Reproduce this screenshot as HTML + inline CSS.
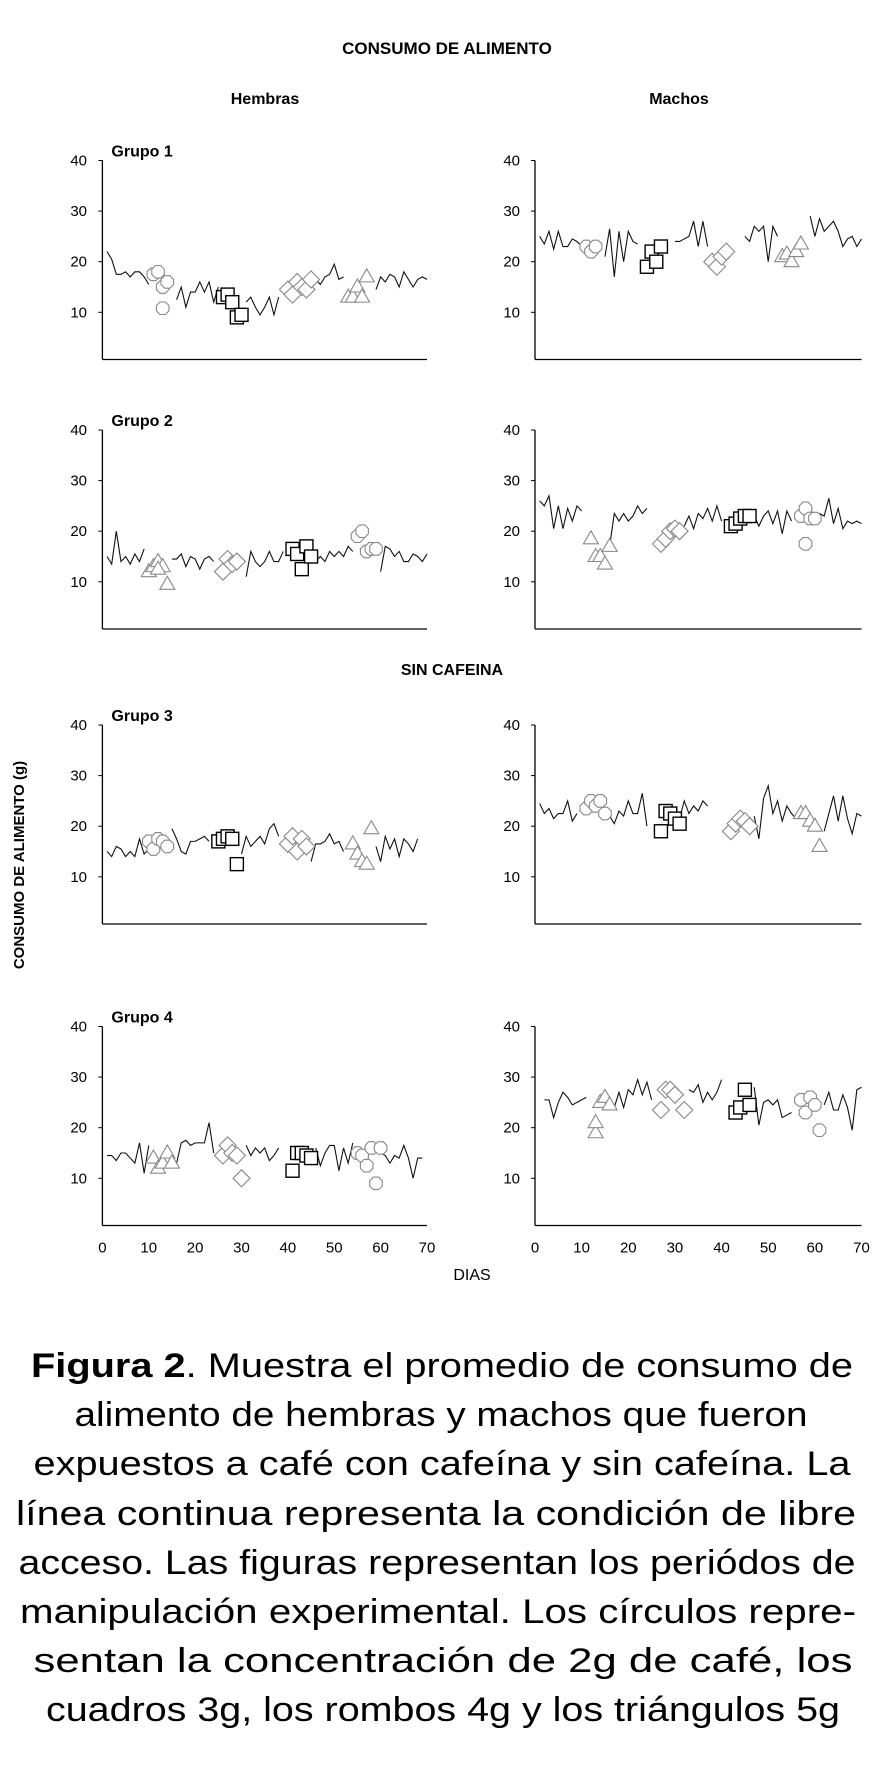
<!DOCTYPE html>
<html><head><meta charset="utf-8"><style>
html,body{margin:0;padding:0;background:#fff}
svg{display:block}
text{font-family:"Liberation Sans",sans-serif;fill:#000}
</style></head><body>
<svg id="fig" width="877" height="1782" viewBox="0 0 877 1782" xmlns="http://www.w3.org/2000/svg">
<text x="447" y="54" text-anchor="middle" font-size="17" font-weight="bold">CONSUMO DE ALIMENTO</text>
<text x="265" y="104" text-anchor="middle" font-size="16" font-weight="bold">Hembras</text>
<text x="679" y="104" text-anchor="middle" font-size="16" font-weight="bold">Machos</text>
<text x="452" y="675" text-anchor="middle" font-size="16" font-weight="bold">SIN CAFEINA</text>
<text transform="translate(24,865) rotate(-90)" text-anchor="middle" font-size="15" font-weight="bold">CONSUMO DE ALIMENTO (g)</text>
<text x="472" y="1280" text-anchor="middle" font-size="16">DIAS</text>
<g id="charts"></g>
<g font-size="34">
<text x="442" y="1377" text-anchor="middle" textLength="822" lengthAdjust="spacingAndGlyphs"><tspan font-weight="bold">Figura 2</tspan>. Muestra el promedio de consumo de</text>
<text x="441" y="1426" text-anchor="middle" textLength="733" lengthAdjust="spacingAndGlyphs">alimento de hembras y machos que fueron</text>
<text x="442" y="1475" text-anchor="middle" textLength="817" lengthAdjust="spacingAndGlyphs">expuestos a café con cafeína y sin cafeína. La</text>
<text x="436" y="1525" text-anchor="middle" textLength="840" lengthAdjust="spacingAndGlyphs">línea continua representa la condición de libre</text>
<text x="437" y="1574" text-anchor="middle" textLength="837" lengthAdjust="spacingAndGlyphs">acceso. Las figuras representan los periódos de</text>
<text x="438" y="1623" text-anchor="middle" textLength="836" lengthAdjust="spacingAndGlyphs">manipulación experimental. Los círculos repre-</text>
<text x="443" y="1672" text-anchor="middle" textLength="819" lengthAdjust="spacingAndGlyphs">sentan la concentración de 2g de café, los</text>
<text x="443" y="1721" text-anchor="middle" textLength="794" lengthAdjust="spacingAndGlyphs">cuadros 3g, los rombos 4g y los triángulos 5g</text>
</g>
</svg>
<script>
const N=null;
const h1Line=[22,20.5,17.5,17.5,18,17,18,18,17,15.5,N,N,N,N,N,12.5,15,11,14,14,16,14,16,12,15,N,N,N,N,N,12,13,11,9.5,11,13,9.5,13,N,N,N,N,N,N,N,16.5,15.5,17,17.5,19.5,16.5,17,N,N,N,N,N,N,14.5,17,16,17.5,17,15,18,16.5,15,16.5,17,16.5];
const m1Line=[25,23.5,26,22.5,26,23,23,24.5,24,23,N,N,N,N,21,26.5,17,26,20,26,24,23.5,N,N,N,N,N,N,N,24,24,24.5,25,28,23,28,23,N,N,N,N,N,N,N,25,24,27,26,27,20,27,25,N,N,N,N,N,N,29,25,28.5,26,27,28,26,23,24.5,25,23,24.5];
const h2Line=[15,13.5,20,14,15,13.5,15.5,14,16.5,N,N,N,N,N,14.5,14.5,15.5,13,15,14.5,12.5,14.5,15,14,N,N,N,N,N,N,11,16,14,13,14,16,14,14,16,N,N,N,N,N,N,14,15,14,16,15,16,15,17,16,N,N,N,N,N,12,17,16.5,15,16,14,14,15.5,15,14,15.5];
const m2Line=[26,25,27,20.5,25,20.5,24.5,22,25,24,N,N,N,N,N,17,23.5,22,23.5,22,23,25,23.5,24.5,N,N,N,N,N,N,N,21,23,20.5,23.5,22.5,24.5,22,25,22,N,N,N,N,N,N,23,21,23,24,21.5,24,19.5,24,22,N,N,N,N,N,23.5,23,26.5,21.5,24.5,20.5,22,21.5,22,21.5];
const h3Line=[15,14,16,15.5,14,15,14,17.5,14.5,15.5,N,N,N,N,19.5,17.5,15,14.5,17,17,17.5,18,17,N,N,N,N,N,N,14.5,18,16,17,18,16.5,19.5,20.5,18,N,N,N,N,N,N,13,16.5,16.5,17,18.5,16.5,17,15,N,N,N,N,N,N,16,13,18,15.5,17.5,14,17.5,16.5,15,17.5];
const m3Line=[24.5,22.5,23.5,21.5,22.5,22.5,25,21,22.5,N,N,N,N,N,N,22,20.5,23,22,25,22.5,22.5,26.5,20,N,N,N,N,N,N,21.5,25,22.5,24,23,25,24,N,N,N,N,N,N,N,N,N,22,17.5,25.5,28,22.5,25,21,24,22.5,21.5,N,N,N,N,N,19,22.5,26,21,26,21.5,18.5,22.5,22];
const h4Line=[14.5,14.5,13.5,15,15,14,13,17,11,16.5,N,N,N,N,N,13,17,17.5,16.5,17,17,17,21,15,N,N,N,N,N,N,16.5,14.5,16,15,16,13.5,14.5,16,N,N,N,N,N,N,N,16,12.5,15,16.5,16.5,11.5,16,13,17,N,N,N,N,N,15,14.5,13,14.5,14,16.5,14,10,14,14,N];
const m4Line=[N,25.5,25.5,22,25,27,26,24.5,25,25.5,26,N,N,N,N,N,24,27,24,27.5,26.5,29.5,26.5,29,25.5,N,N,N,N,N,N,N,27.5,27,28.5,25,27,25.5,27,29.5,N,N,N,N,N,N,28,20.5,25,25.5,24.5,25.5,22,22.5,23,N,N,N,N,N,N,24.5,27,23.5,23.5,26.5,24,19.5,27.5,28];
const h1CircDays=[11,12,13,14,13], h1CircVals=[17.5,18,15,16,10.8];
const h1SqDays=[26,27,28,29,30], h1SqVals=[13,13.5,12,9,9.5];
const h1DiaDays=[40,41,42,43,44,45], h1DiaVals=[14.5,13.5,16,15,14.5,16.5];
const h1TriDays=[53,54,55,56,57], h1TriVals=[13,13,15,13,17];
const m1CircDays=[11,12,13], m1CircVals=[23,22,23];
const m1SqDays=[24,25,26,27], m1SqVals=[19,22,20,23];
const m1DiaDays=[38,39,40,41], m1DiaVals=[20,19,21,22];
const m1TriDays=[53,54,55,56,57], m1TriVals=[21,21.5,20,22,23.5];
const h2TriDays=[10,11,12,13,14,12], h2TriVals=[12,13,14,13,9.5,12.5];
const h2DiaDays=[26,27,28,29], h2DiaVals=[12,14.5,13.5,14];
const h2SqDays=[41,42,43,44,45], h2SqVals=[16.5,15.5,12.5,17,15];
const h2CircDays=[55,56,57,58,59], h2CircVals=[19,20,16,16.5,16.5];
const m2TriDays=[12,13,14,15,16], m2TriVals=[18.5,15,15,13.5,17];
const m2DiaDays=[27,28,29,30,31], m2DiaVals=[17.5,18.5,20,20.5,20];
const m2SqDays=[42,43,44,45,46], m2SqVals=[21,21.5,22.5,23,23];
const m2CircDays=[57,58,59,60,58], m2CircVals=[23,24.5,22.5,22.5,17.5];
const h3CircDays=[10,11,12,13,14], h3CircVals=[17,15.5,17.5,17,16];
const h3SqDays=[25,26,27,28,29], h3SqVals=[17,17.5,18,17.5,12.5];
const h3DiaDays=[40,41,42,43,44], h3DiaVals=[16.5,18,15,17.5,16];
const h3TriDays=[54,55,56,57,58], h3TriVals=[16.5,14.5,13,12.5,19.5];
const m3CircDays=[11,12,13,14,15], m3CircVals=[23.5,25,24,25,22.5];
const m3SqDays=[27,28,29,30,31], m3SqVals=[19,23,22.5,21.5,20.5];
const m3DiaDays=[42,43,44,45,46], m3DiaVals=[19,20.5,21.5,21,20];
const m3TriDays=[57,58,59,60,61], m3TriVals=[22.5,22.5,21,20,16];
const h4TriDays=[11,12,13,14,15], h4TriVals=[14,12,13,15,13];
const h4DiaDays=[26,27,28,29,30], h4DiaVals=[14.5,16.5,15,14.5,10];
const h4SqDays=[41,42,43,44,45], h4SqVals=[11.5,15,15,14.5,14];
const h4CircDays=[55,56,57,58,59,60], h4CircVals=[15,14.5,12.5,16,9,16];
const m4TriDays=[13,13,14,15,16], m4TriVals=[19,21,25,26,24.5];
const m4DiaDays=[27,28,29,30,32], m4DiaVals=[23.5,27.5,27.5,26.5,23.5];
const m4SqDays=[43,44,45,46], m4SqVals=[23,24,27.5,24.5];
const m4CircDays=[57,58,59,60,61], m4CircVals=[25.5,23,26,24.5,19.5];
const yTicks=[10,20,30,40];
const xTicks=[0,10,20,30,40,50,60,70];

const NS='http://www.w3.org/2000/svg';
const root=document.getElementById('charts');
function mk(tag,attrs,parent){const e=document.createElementNS(NS,tag);for(const k in attrs)e.setAttribute(k,attrs[k]);parent.appendChild(e);return e;}
const rowsTop=[160.5,430,725,1026.5];
const cols=[{x0:102.4,x1:427,lab:87},{x0:535,x1:861.5,lab:520}];
const panels=[
 {r:0,c:0,name:'hembras-grupo-1',g:'Grupo 1',line:h1Line,m:[[h1CircDays,h1CircVals,'c'],[h1SqDays,h1SqVals,'s'],[h1DiaDays,h1DiaVals,'d'],[h1TriDays,h1TriVals,'t']]},
 {r:0,c:1,name:'machos-grupo-1',line:m1Line,m:[[m1CircDays,m1CircVals,'c'],[m1SqDays,m1SqVals,'s'],[m1DiaDays,m1DiaVals,'d'],[m1TriDays,m1TriVals,'t']]},
 {r:1,c:0,name:'hembras-grupo-2',g:'Grupo 2',line:h2Line,m:[[h2TriDays,h2TriVals,'t'],[h2DiaDays,h2DiaVals,'d'],[h2SqDays,h2SqVals,'s'],[h2CircDays,h2CircVals,'c']]},
 {r:1,c:1,name:'machos-grupo-2',line:m2Line,m:[[m2TriDays,m2TriVals,'t'],[m2DiaDays,m2DiaVals,'d'],[m2SqDays,m2SqVals,'s'],[m2CircDays,m2CircVals,'c']]},
 {r:2,c:0,name:'hembras-grupo-3',g:'Grupo 3',line:h3Line,m:[[h3CircDays,h3CircVals,'c'],[h3SqDays,h3SqVals,'s'],[h3DiaDays,h3DiaVals,'d'],[h3TriDays,h3TriVals,'t']]},
 {r:2,c:1,name:'machos-grupo-3',line:m3Line,m:[[m3CircDays,m3CircVals,'c'],[m3SqDays,m3SqVals,'s'],[m3DiaDays,m3DiaVals,'d'],[m3TriDays,m3TriVals,'t']]},
 {r:3,c:0,name:'hembras-grupo-4',g:'Grupo 4',line:h4Line,xl:true,m:[[h4TriDays,h4TriVals,'t'],[h4DiaDays,h4DiaVals,'d'],[h4SqDays,h4SqVals,'s'],[h4CircDays,h4CircVals,'c']]},
 {r:3,c:1,name:'machos-grupo-4',line:m4Line,xl:true,m:[[m4TriDays,m4TriVals,'t'],[m4DiaDays,m4DiaVals,'d'],[m4SqDays,m4SqVals,'s'],[m4CircDays,m4CircVals,'c']]}
];
const mnames={c:'circle-marker',s:'square-marker',d:'diamond-marker',t:'triangle-marker'};
panels.forEach(p=>{
 const top=rowsTop[p.r], col=cols[p.c];
 const ys=v=>top+(40-v)*5.06;
 const xs=d=>col.x0+d*(col.x1-col.x0)/70;
 const base=top+199;
 const g=mk('g',{},root);
 
 
 const ya=mk('line',{x1:col.x0,y1:top,x2:col.x0,y2:base,stroke:'#000','stroke-width':1.3},g);
 
 
 const xa=mk('line',{x1:col.x0,y1:base,x2:col.x1,y2:base,stroke:'#000','stroke-width':1.3},g);
 
 
 yTicks.forEach(t=>{
  const tk=mk('line',{x1:col.x0-4,y1:ys(t),x2:col.x0,y2:ys(t),stroke:'#000','stroke-width':1},g);
  
  
  const tl=mk('text',{x:col.lab,y:ys(t)+5,'text-anchor':'end','font-size':15},g);
  
  
  tl.textContent=t;
 });
 if(p.xl){xTicks.forEach(t=>{
  const tl=mk('text',{x:xs(t),y:base+27,'text-anchor':'middle','font-size':15},g);
  
  
  tl.textContent=t;
 });}
 if(p.g){const gt=mk('text',{x:col.x0+9,y:top-4,'font-size':16,'font-weight':'bold'},g);
  
  
  gt.textContent=p.g;}
 let seg=[];const segs=[];
 p.line.forEach((v,i)=>{if(v===null){if(seg.length)segs.push(seg);seg=[];}else seg.push([xs(i+1),ys(v)]);});
 if(seg.length)segs.push(seg);
 segs.forEach(s=>{
  const pl=mk('polyline',{points:s.map(q=>q.join(',')).join(' '),fill:'none',stroke:'#111','stroke-width':1.1},g);
  
  
 });
 p.m.forEach(([days,vals,type])=>{
  days.forEach((d,i)=>{
   const x=xs(d),y=ys(vals[i]);let e;
   if(type==='s'){e=mk('rect',{x:x-6.5,y:y-6.5,width:13,height:13,fill:'#fff',stroke:'#000','stroke-width':1.4},g);}
   else if(type==='d'){e=mk('polygon',{points:`${x},${y-8.5} ${x+8.5},${y} ${x},${y+8.5} ${x-8.5},${y}`,fill:'#fff',stroke:'#888','stroke-width':1.1},g);}
   else if(type==='t'){e=mk('polygon',{points:`${x},${y-8} ${x+7.5},${y+5} ${x-7.5},${y+5}`,fill:'#fff',stroke:'#888','stroke-width':1.1},g);}
   else{const pts=[];for(let k=0;k<8;k++){const a=Math.PI/8+k*Math.PI/4;pts.push((x+6.8*Math.cos(a)).toFixed(1)+','+(y+6.8*Math.sin(a)).toFixed(1));}
    e=mk('polygon',{points:pts.join(' '),fill:'#fff',stroke:'#888','stroke-width':1.1},g);}
   
   
  });
 });
});
</script>
</body></html>
